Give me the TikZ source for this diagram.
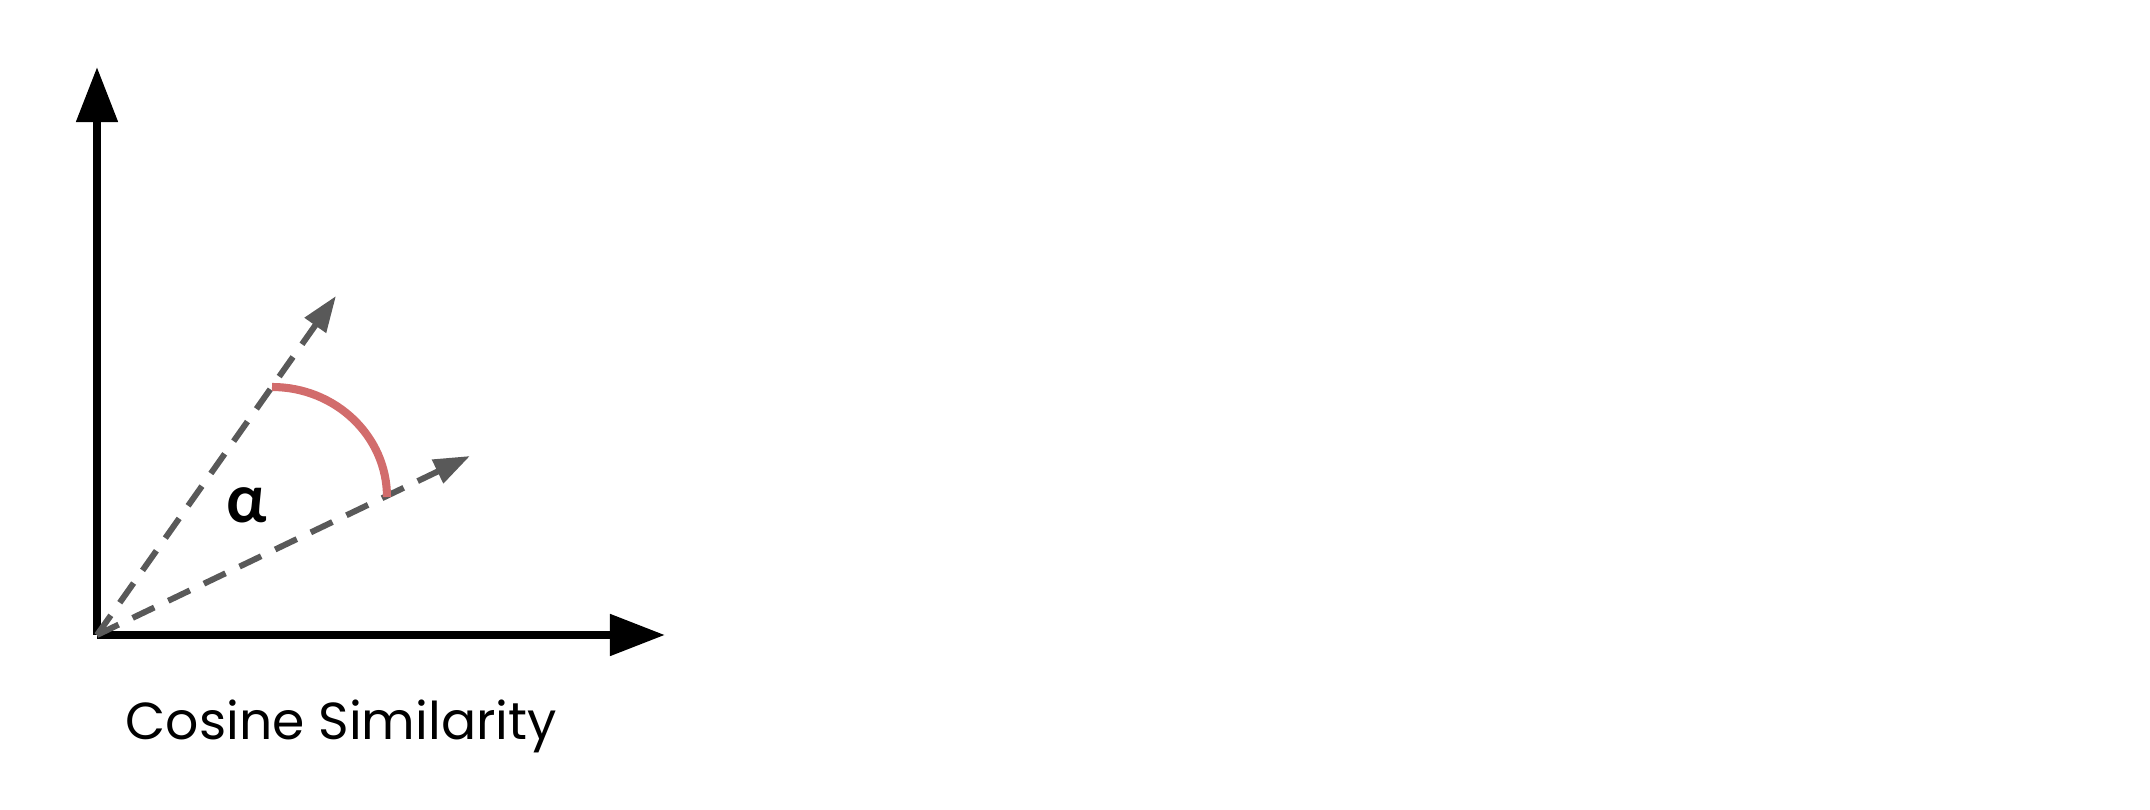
\documentclass[tikz,border=0pt]{standalone}
\usepackage{fontspec}
\setmainfont{Poppins}
\newfontfamily\greekfont{Lato}
\usetikzlibrary{arrows.meta}
\definecolor{vecgray}{RGB}{89,89,89}
\definecolor{anglered}{RGB}{210,108,108}
\tikzstyle{axis}=[line width=2.3pt, black, -{Triangle[length=0.55cm,width=0.4cm]}]
\tikzstyle{vec}=[line width=1.7pt, vecgray, dash pattern=on 0.24cm off 0.155cm, -{Triangle[length=0.36cm,width=0.25cm]}]
\tikzstyle{angle}=[line width=2.3pt, anglered]
\newcommand{\point}{\coordinate}

\begin{document}
\begin{tikzpicture}[x=0.01cm, y=-0.01cm]
\useasboundingbox (0,0) rectangle (2150,810);
\point (o) at (97,635);
\point (ytip) at (97,67);
\point (xtip) at (665,635);
\point (u) at (336,296);
\point (v) at (470,456);
\point (as) at (272,387);
\point (ae) at (387,497);
\draw[axis] (o) -- (ytip);
\draw[axis] (o) -- (xtip);
\draw[vec] (o) -- (u);
\draw[vec] (o) -- (v);
\draw[angle] (as) arc[start angle=90, end angle=0, x radius=115, y radius=-110];
\node (alpha) at (247,505) {\greekfont\bfseries\fontsize{19}{19}\selectfont α};
\node[anchor=base west, inner sep=0pt] (title) at (125,740)
    {\fontsize{14.8}{15}\selectfont Cosine Similarity};
\end{tikzpicture}
\end{document}
